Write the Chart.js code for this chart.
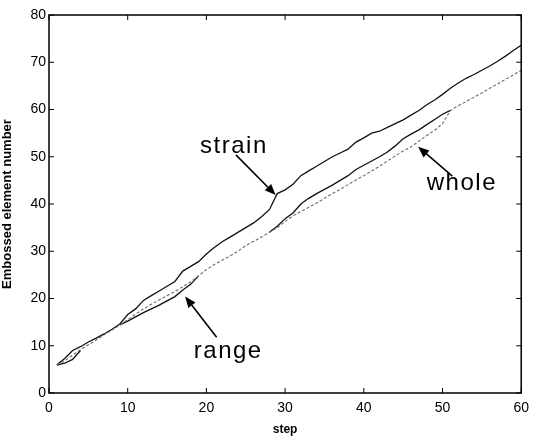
<!DOCTYPE html>
<html>
<head>
<meta charset="utf-8">
<script src="https://cdn.jsdelivr.net/npm/chart.js@4.4.0/dist/chart.umd.min.js"></script>
<style>
html, body { margin: 0; padding: 0; background: #fff; }
#wrap { width: 536px; height: 437px; }
</style>
</head>
<body>
<div id="wrap"><canvas id="myChart"></canvas></div>
<script>
let steps = [1, 2, 3, 4, 5, 6, 7, 8, 9, 10, 11, 12, 13, 14, 15, 16, 17, 18, 19, 20,
    21, 22, 23, 24, 25, 26, 27, 28, 29, 30, 31, 32, 33, 34, 35, 36, 37, 38, 39, 40,
    41, 42, 43, 44, 45, 46, 47, 48, 49, 50, 51, 52, 53, 54, 55, 56, 57, 58, 59, 60]

let strainArr = [6, 7.3, 9.0, 9.8, 10.8, 11.6, 12.5, 13.5, 14.6, 16.6, 17.8, 19.6, 20.6, 21.6, 22.6, 23.6, 25.8, 26.8, 27.8, 29.4,
    30.8, 32, 33, 34, 35, 36, 37.3, 38.8, 42.2, 43, 44.2, 46, 47, 48, 49, 50, 50.8, 51.6, 53.1, 54,
    55, 55.4, 56.2, 57, 57.8, 58.8, 59.8, 61, 62, 63.2, 64.5, 65.6, 66.6, 67.4, 68.3, 69.2, 70.2, 71.3, 72.5, 73.6]

let wholeArr = [6, 6.8, 8, 9.2, 10.2, 11.2, 12.3, 13.3, 14.4, 15.5, 16.7, 17.8, 18.8, 19.7, 20.6, 21.5, 22.5, 23.5, 24.8, 26.1,
    27.2, 28.1, 29, 30, 31.2, 32.1, 33, 34, 35, 36.3, 37.5, 38.4, 39.3, 40.2, 41.2, 42.2, 43.1, 44.1, 45.1, 46,
    47, 48, 49.1, 50.2, 51.2, 52.1, 53.3, 54.5, 55.6, 57, 59.8, 60.8, 61.7, 62.6, 63.5, 64.5, 65.4, 66.4, 67.3, 68.3]

let rangeArr = [5.9, 6.3, 7.1, 9.0, null, null, null, null, 14.4, 15.2, 16.1, 17, 17.8, 18.6, 19.5, 20.4, 21.8, 23, 24.8, null,
    null, null, null, null, null, null, null, 34, 35.3, 36.9, 38.1, 40, 41.2, 42.2, 43.1, 44, 45, 46, 47.3, 48.2,
    49.1, 50, 51, 52.3, 53.8, 54.8, 55.7, 56.8, 57.9, 59, 59.8, null, null, null, null, null, null, null, null, null]

let xTicks = [0, 10, 20, 30, 40, 50, 60]
let yTicks = [0, 10, 20, 30, 40, 50, 60, 70, 80]

// notes drawn on the plot, in data units
let noteTexts = ['strain', 'whole', 'range']
let noteX = [19.2, 48, 18.4]
let noteY = [50.8, 43, 7.4]
let arrowFrom = [[23.75, 50.4], [51.25, 45.9], [21.3, 11.8]]
let arrowTo = [[28.8, 41.9], [46.9, 52.1], [17.3, 20.4]]

const ctx = document.getElementById('myChart').getContext('2d')

function toPoints(arr) {
    return steps.map((s, i) => ({ x: s, y: arr[i] }))
}

const framePlugin = {
    id: 'framePlugin',
    afterDraw(chart) {
        const c = chart.ctx
        const a = chart.chartArea
        const x = chart.scales.x
        const y = chart.scales.y
        c.save()
        c.strokeStyle = '#000'
        c.lineWidth = 1.5
        c.strokeRect(a.left, a.top, a.right - a.left, a.bottom - a.top)

        c.lineWidth = 1
        c.beginPath()
        xTicks.forEach(v => {
            let px = x.getPixelForValue(v)
            c.moveTo(px, a.bottom); c.lineTo(px, a.bottom - 5)
            c.moveTo(px, a.top); c.lineTo(px, a.top + 5)
        })
        yTicks.forEach(v => {
            let py = y.getPixelForValue(v)
            c.moveTo(a.left, py); c.lineTo(a.left + 5, py)
            c.moveTo(a.right, py); c.lineTo(a.right - 5, py)
        })
        c.stroke()

        c.fillStyle = '#000'
        c.font = '24px "Liberation Sans", Arial, sans-serif'
        c.letterSpacing = '1.5px'
        c.textBaseline = 'alphabetic'
        noteTexts.forEach((t, i) => {
            c.fillText(t, x.getPixelForValue(noteX[i]), y.getPixelForValue(noteY[i]))
        })

        c.lineWidth = 1.6
        arrowFrom.forEach((f, i) => {
            let x0 = x.getPixelForValue(f[0]), y0 = y.getPixelForValue(f[1])
            let x1 = x.getPixelForValue(arrowTo[i][0]), y1 = y.getPixelForValue(arrowTo[i][1])
            let ang = Math.atan2(y1 - y0, x1 - x0)
            let hl = 11, hw = 4.5
            let bx = x1 - hl * Math.cos(ang), by = y1 - hl * Math.sin(ang)
            c.beginPath()
            c.moveTo(x0, y0); c.lineTo(bx, by)
            c.stroke()
            c.beginPath()
            c.moveTo(x1, y1)
            c.lineTo(bx + hw * Math.sin(ang), by - hw * Math.cos(ang))
            c.lineTo(bx - hw * Math.sin(ang), by + hw * Math.cos(ang))
            c.closePath()
            c.fill()
        })
        c.restore()
    }
}

let myChart = new Chart(ctx, {
    type: 'line',
    data: {
        datasets: [{
            label: 'whole',
            data: toPoints(wholeArr),
            borderColor: '#6a6a6a',
            borderWidth: 1.1,
            borderDash: [3, 2],
            pointRadius: 0,
            tension: 0
        }, {
            label: 'range',
            data: toPoints(rangeArr),
            borderColor: '#111',
            borderWidth: 1.3,
            pointRadius: 0,
            spanGaps: false,
            tension: 0
        }, {
            label: 'strain',
            data: toPoints(strainArr),
            borderColor: '#111',
            borderWidth: 1.3,
            pointRadius: 0,
            tension: 0
        }]
    },
    options: {
        responsive: true,
        maintainAspectRatio: false,
        animation: false,
        events: [],
        layout: { padding: { top: 15, right: 8, left: 0, bottom: 0 } },
        plugins: { legend: { display: false }, tooltip: { enabled: false } },
        scales: {
            x: {
                type: 'linear',
                min: 0,
                max: 60,
                grid: { display: false, drawTicks: false },
                border: { display: false },
                afterBuildTicks: (s) => { s.ticks = xTicks.map(v => ({ value: v })) },
                afterFit: (s) => { s.height = 44 },
                ticks: {
                    padding: 7,
                    color: '#000',
                    font: { family: '"Liberation Sans", Arial, sans-serif', size: 14 }
                },
                title: {
                    display: true,
                    text: 'step',
                    color: '#000',
                    padding: { top: 3, bottom: 0 },
                    font: { family: '"Liberation Sans", Arial, sans-serif', size: 12, weight: 'bold' }
                }
            },
            y: {
                type: 'linear',
                min: 0,
                max: 80,
                grid: { display: false, drawTicks: false },
                border: { display: false },
                afterBuildTicks: (s) => { s.ticks = yTicks.map(v => ({ value: v })) },
                afterFit: (s) => { s.width = 49 },
                ticks: {
                    padding: 3,
                    color: '#000',
                    font: { family: '"Liberation Sans", Arial, sans-serif', size: 14 }
                },
                title: {
                    display: true,
                    text: 'Embossed element number',
                    color: '#000',
                    padding: { top: 0, bottom: 0 },
                    font: { family: '"Liberation Sans", Arial, sans-serif', size: 13, weight: 'bold' }
                }
            }
        }
    },
    plugins: [framePlugin]
})
</script>
</body>
</html>
